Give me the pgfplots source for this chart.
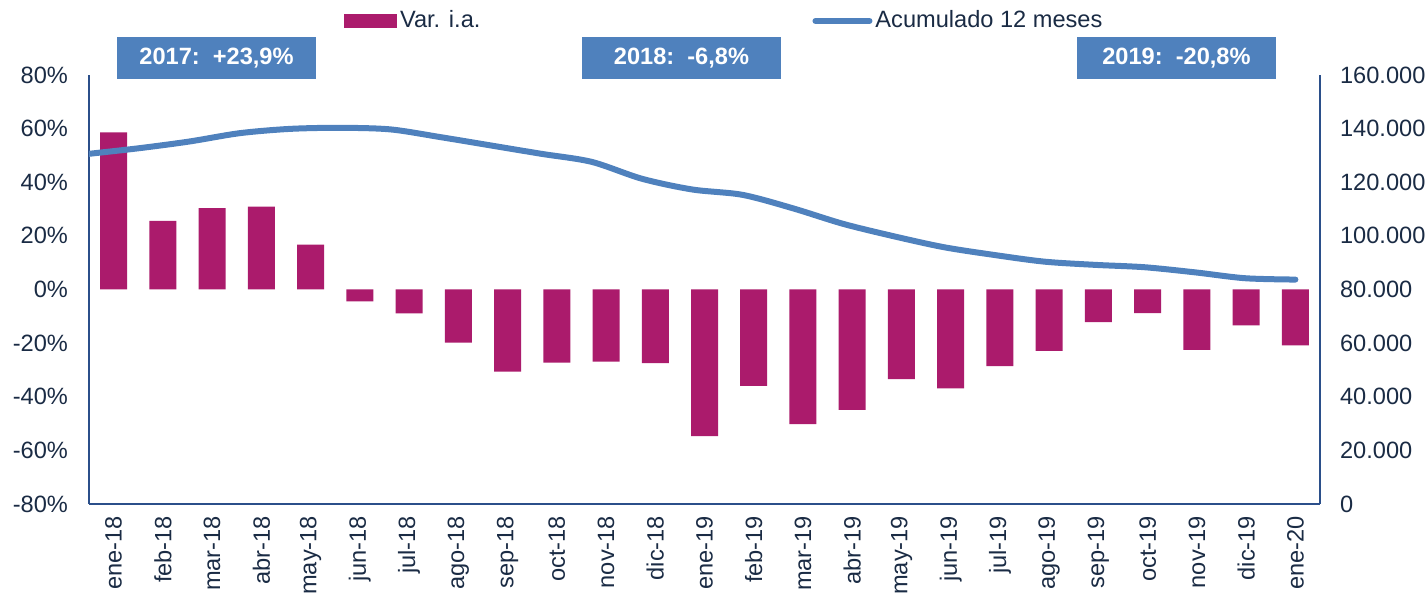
\documentclass[border=0pt]{standalone}
\usepackage{fontspec}
\setmainfont{Liberation Sans}
\usepackage{pgfplots}
\pgfplotsset{compat=1.18}
\definecolor{barc}{HTML}{AB1B6C}
\definecolor{linec}{HTML}{4F81BD}
\definecolor{boxc}{HTML}{4F81BD}
\definecolor{axc}{HTML}{2B4F8A}
\definecolor{txtc}{HTML}{1A2B44}
\newcommand{\fs}{\fontsize{11.8}{14}\selectfont}
\begin{document}
\begin{tikzpicture}
\path[use as bounding box] (-44.5pt,-47pt) rectangle (669.5pt,252pt);
\begin{axis}[
  scale only axis, width=615.5pt, height=214.5pt,
  at={(0pt,0pt)}, anchor=south west,
  xmin=-0.5, xmax=24.5, ymin=-80, ymax=80,
  clip=false,
  axis x line*=bottom, axis y line*=left,
  axis line style={draw=axc, line width=1pt, -},
  major tick length=0pt,
  xtick={0,...,24},
  xticklabels={ene-18,feb-18,mar-18,abr-18,may-18,jun-18,jul-18,ago-18,sep-18,oct-18,nov-18,dic-18,ene-19,feb-19,mar-19,abr-19,may-19,jun-19,jul-19,ago-19,sep-19,oct-19,nov-19,dic-19,ene-20},
  xticklabel style={yshift=-2.5pt, rotate=90, anchor=east, font=\fs, text=txtc},
  ytick={-80,-60,...,80},
  yticklabels={-80\%,-60\%,-40\%,-20\%,0\%,20\%,40\%,60\%,80\%},
  yticklabel style={font=\fs, text=txtc, xshift=-7pt},
  /pgf/number format/assume math mode=true,
  ybar, bar width=13.5pt,
]
\addplot[fill=barc, draw=none] coordinates {
(0,58.6) (1,25.6) (2,30.3) (3,30.9) (4,16.7) (5,-4.4) (6,-8.9) (7,-19.8) (8,-30.6) (9,-27.3) (10,-26.9) (11,-27.5) (12,-54.7) (13,-35.9) (14,-50.2) (15,-44.9) (16,-33.4) (17,-36.9) (18,-28.6) (19,-22.9) (20,-12.2) (21,-8.8) (22,-22.5) (23,-13.4) (24,-20.8)
};
\node[fill=boxc, text=white, font=\fs\bfseries, minimum width=99.5pt, minimum height=21pt, inner sep=0pt] at (rel axis cs:0.1036,1.0396) {2017:\ \ +23,9\%};
\node[fill=boxc, text=white, font=\fs\bfseries, minimum width=99.5pt, minimum height=21pt, inner sep=0pt] at (rel axis cs:0.4813,1.0396) {2018:\ \ -6,8\%};
\node[fill=boxc, text=white, font=\fs\bfseries, minimum width=99.5pt, minimum height=21pt, inner sep=0pt] at (rel axis cs:0.8834,1.0396) {2019:\ \ -20,8\%};
\end{axis}
\begin{axis}[
  scale only axis, width=615.5pt, height=214.5pt,
  at={(0pt,0pt)}, anchor=south west,
  xmin=-0.5, xmax=24.5, ymin=0, ymax=160000,
  axis x line=none, axis y line*=right,
  axis line style={draw=axc, line width=1pt, -},
  major tick length=0pt,
  scaled y ticks=false,
  ytick={0,20000,40000,60000,80000,100000,120000,140000,160000},
  yticklabels={0,20.000,40.000,60.000,80.000,100.000,120.000,140.000,160.000},
  yticklabel style={font=\fs, text=txtc, xshift=6.5pt},
  /pgf/number format/assume math mode=true,
  legend columns=2,
  legend style={at={(0.207,1.126)}, anchor=west, draw=none, fill=none, font=\fs, text=txtc, inner sep=0pt,
    nodes={inner sep=1.5pt},
    /tikz/every even column/.append style={column sep=164.5pt}},
]
\addlegendimage{legend image code/.code={\fill[barc] (0pt,-3.2pt) rectangle (26pt,3.2pt);}}
\addlegendentry{Var. i.a.}
\addplot[color=linec, line width=3pt, smooth, line cap=round,
  legend image code/.code={\draw[linec, line width=3pt, line cap=round] (0pt,0pt) -- (27pt,0pt);}] coordinates {
(-0.5,130600) (0.521,132700) (1.542,135200) (2.562,138300) (3.583,139900) (4.604,140300) (5.625,139700) (6.646,136800) (7.667,133700) (8.687,130600) (9.708,127600) (10.729,121300) (11.75,117300) (12.771,115300) (13.792,110300) (14.812,104500) (15.833,99900) (16.854,95800) (17.875,92900) (18.896,90400) (19.917,89200) (20.937,88300) (21.958,86400) (22.979,84200) (24.0,83700)
};
\addlegendentry{Acumulado 12 meses}
\end{axis}
\end{tikzpicture}
\end{document}
